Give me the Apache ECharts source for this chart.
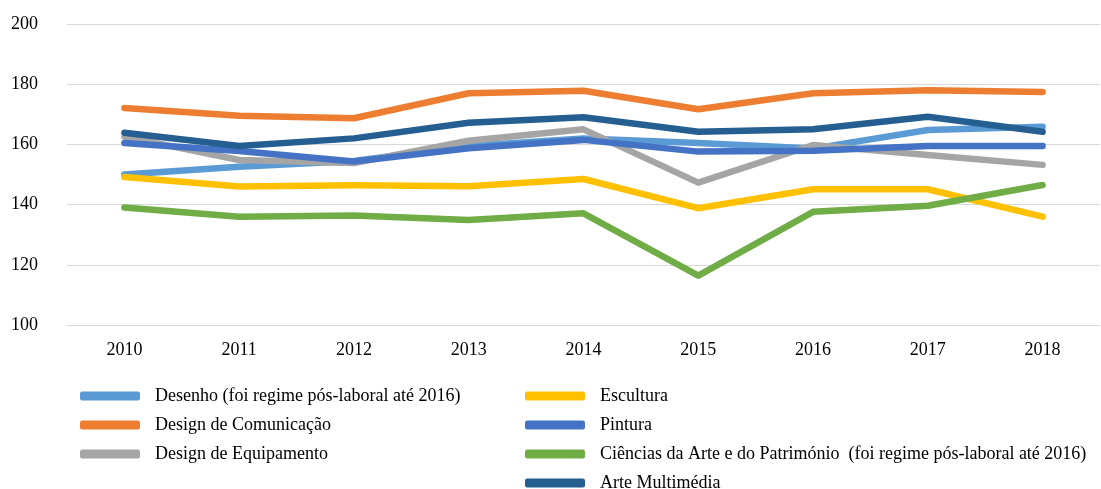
<!DOCTYPE html>
<html>
<head>
<meta charset="utf-8">
<script src="https://cdn.jsdelivr.net/npm/echarts@6/dist/echarts.min.js"></script>
<style>
html,body{margin:0;padding:0;background:#fff;}
#chart{width:1101px;height:489px;}
</style>
</head>
<body>
<div id="chart"></div>
<script>
const years = ['2010','2011','2012','2013','2014','2015','2016','2017','2018'];
const y_ticks = [100, 120, 140, 160, 180, 200];

const names = [
    'Desenho (foi regime pós-laboral até 2016)',
    'Design de Comunicação',
    'Design de Equipamento',
    'Escultura',
    'Pintura',
    'Ciências da Arte e do Património  (foi regime pós-laboral até 2016)',
    'Arte Multimédia'
];
const colors = ['#5B9BD5','#ED7D31','#A5A5A5','#FFC000','#4472C4','#70AD47','#255E91'];

const desenho     = [150.0, 152.6, 154.5, 159.5, 162.0, 160.5, 158.6, 164.8, 165.9];
const design_com  = [172.1, 169.5, 168.7, 177.0, 177.8, 171.7, 177.0, 178.0, 177.4];
const design_eq   = [162.6, 154.8, 153.8, 161.2, 165.0, 147.3, 159.8, 156.5, 153.2];
const escultura   = [149.2, 146.0, 146.4, 146.1, 148.5, 138.8, 145.1, 145.1, 136.0];
const pintura     = [160.5, 157.8, 154.3, 158.7, 161.5, 157.6, 157.9, 159.5, 159.5];
const ciencias    = [139.0, 136.0, 136.4, 134.9, 137.1, 116.4, 137.6, 139.6, 146.5];
const multimedia  = [163.9, 159.5, 162.0, 167.2, 169.0, 164.2, 165.0, 169.2, 164.2];

const all_data = [desenho, design_com, design_eq, escultura, pintura, ciencias, multimedia];

const font = '"Liberation Serif", "Times New Roman", serif';

////-------------------////
function legend_block(list, left){
    return {
        orient: 'vertical',
        left: left,
        top: 381,
        height: 120,
        itemWidth: 60,
        itemHeight: 9,
        itemGap: 9,
        icon: 'roundRect',
        selectedMode: false,
        data: list,
        textStyle: {
            fontFamily: font,
            fontSize: 18,
            color: '#000',
            lineHeight: 20,
            padding: [0, 0, 0, 10]
        }
    };
}

const series = [];
for (let index = 0; index < names.length; index++) {
    series.push({
        name: names[index],
        type: 'line',
        data: all_data[index],
        symbol: 'none',
        lineStyle: {width: 6.5, color: colors[index], cap: 'round', join: 'round'},
        itemStyle: {color: colors[index]},
        z: 2 + index
    });
}

const option = {
    animation: false,
    color: colors,
    grid: {left: 67, right: 1, top: 24, bottom: 164, containLabel: false},
    legend: [
        legend_block(names.slice(0, 3), 75),
        legend_block(names.slice(3), 520)
    ],
    xAxis: {
        type: 'category',
        data: years,
        boundaryGap: true,
        axisLine: {show: true, lineStyle: {color: '#D9D9D9', width: 1}},
        axisTick: {show: false},
        axisLabel: {fontFamily: font, fontSize: 18, color: '#000', margin: 16}
    },
    yAxis: {
        type: 'value',
        min: y_ticks[0],
        max: y_ticks[y_ticks.length - 1],
        interval: 20,
        axisLine: {show: false},
        axisTick: {show: false},
        axisLabel: {fontFamily: font, fontSize: 18, color: '#000', margin: 29},
        splitLine: {lineStyle: {color: '#D9D9D9', width: 1}}
    },
    series: series
};

const chart = echarts.init(document.getElementById('chart'), null, {renderer: 'canvas'});
chart.setOption(option);
</script>
</body>
</html>
